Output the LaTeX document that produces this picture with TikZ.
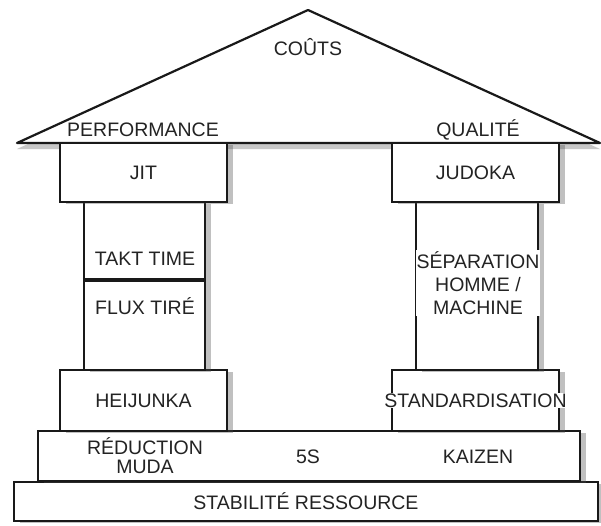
\documentclass[tikz,border=0pt]{standalone}
\usepackage{fontspec}
\setmainfont{Liberation Sans}
\usetikzlibrary{shadows, positioning}
\definecolor{templeline}{RGB}{25, 25, 25}
\definecolor{templetext}{RGB}{35, 35, 35}
\tikzset{
  slab/.style={rectangle, draw=templeline, line width=2.2pt, fill=white,
               minimum width=#1, inner sep=0pt,
               drop shadow={shadow xshift=6pt, shadow yshift=-2pt, fill=black!70, opacity=.35}},
  slab/.default=167pt,
  word/.style={text=templetext, align=center, inner sep=1pt,
               font=\fontsize{19.5}{23}\selectfont},
  tightword/.style={word, font=\fontsize{19.5}{19}\selectfont},
  roofline/.style={draw=templeline, line width=2.2pt, fill=white, line join=round,
                   drop shadow={shadow xshift=0pt, shadow yshift=-6pt, fill=black!70, opacity=.3}},
  divider/.style={draw=templeline, line width=4pt},
}

\begin{document}
\begin{tikzpicture}[x=1pt, y=-1pt]
  \useasboundingbox[fill=white] (0,0) rectangle (601,525);

  % toit
  \draw[roofline] (17,143) -- (308,10) -- (600,143) -- cycle;

  % socle
  \node[slab=584pt, minimum height=39pt] (stab) at (306,501.5) {};
  \node[slab=542pt, minimum height=50pt] (found) at (309,456) {};

  % bases des piliers
  \node[slab, minimum height=61pt] (heij) at (143.5,400.5) {};
  \node[slab, minimum height=61pt] (stdz) at (475.5,400.5) {};

  % fûts
  \node[slab=121pt, minimum height=168pt] (lshaft) at (144.5,286) {};
  \node[slab=122pt, minimum height=168pt] (rshaft) at (477,286) {};
  \draw[divider] ([yshift=6pt]lshaft.west) -- ([yshift=6pt]lshaft.east);

  % chapiteaux
  \node[slab, minimum height=59pt] (jit) at (143.5,172.5) {};
  \node[slab, minimum height=59pt] (judo) at (475.5,172.5) {};
  \draw[templeline, line width=2.2pt] (17,143) -- (600,143);

  % textes
  \node[word] (couts) at (308,47) {COÛTS};
  \node[word] (perf) at (143,130) {PERFORMANCE};
  \node[word] (qual) at (478,130) {QUALITÉ};
  \node[word] at (jit) {JIT};
  \node[word] at (judo) {JUDOKA};
  \node[word] (takt) at (145,259) {TAKT TIME};
  \node[word] (flux) at (145,306) {FLUX TIRÉ};
  \node[word, fill=white] (sepa) at (478,283) {SÉPARATION\\HOMME /\\MACHINE};
  \node[word] at (heij) {HEIJUNKA};
  \node[word, fill=white] at (stdz) {STANDARDISATION};
  \node[tightword] (muda) at (145,456) {RÉDUCTION\\MUDA};
  \node[word] (fives) at (308,457) {5S};
  \node[word] (kaiz) at (478,457) {KAIZEN};
  \node[word] at (stab) {STABILITÉ RESSOURCE};
\end{tikzpicture}
\end{document}
